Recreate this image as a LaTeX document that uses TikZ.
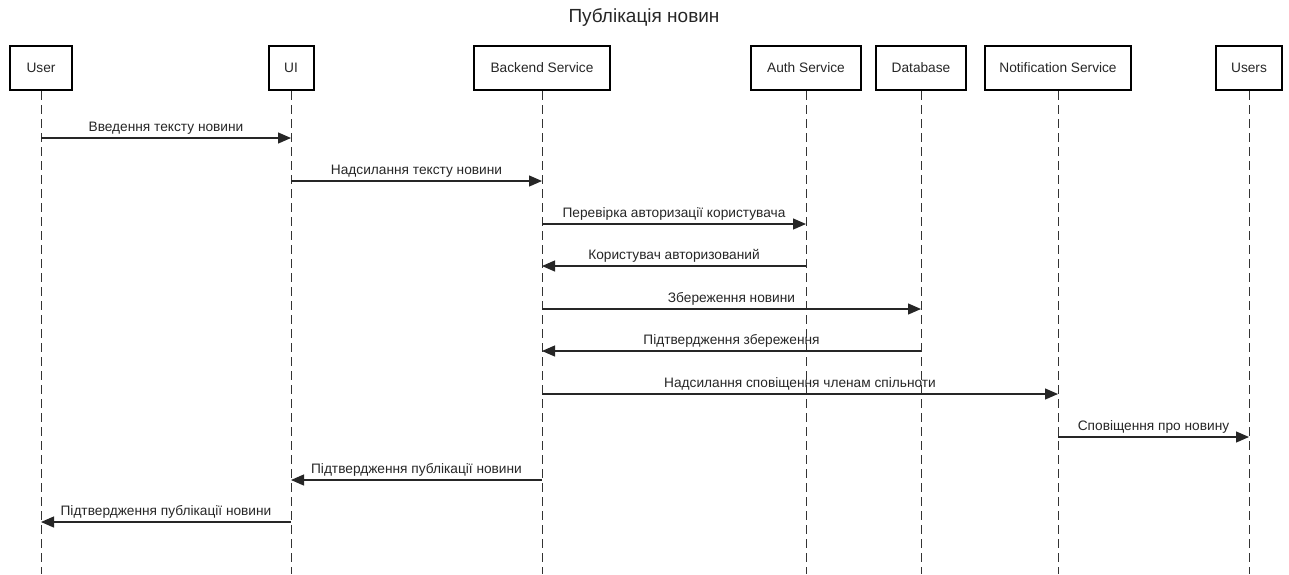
\documentclass[tikz,border=0pt]{standalone}
\usepackage{fontspec}
\setmainfont{Liberation Sans}
\usetikzlibrary{arrows.meta}
\begin{document}
\begin{tikzpicture}[x=1pt,y=-1pt,
  actor/.style={draw=black, line width=2pt, minimum height=44pt, inner sep=0pt, text=black!85, font=\fontsize{13.7}{16}\selectfont},
  life/.style={draw=black!80, dash pattern=on 9pt off 5pt, line width=1pt},
  msg/.style={draw=black!85, line width=1.2pt, -{Triangle[length=13pt,width=11pt]}},
  lbl/.style={font=\fontsize{13.7}{16}\selectfont, text=black!85, above=3pt, inner sep=0pt}]
\useasboundingbox (0,0) rectangle (1289,574);
\node[font=\fontsize{19}{22}\selectfont, text=black!85] (title) at (644,17) {Публікація новин};
\node[actor, minimum width=62pt]  (user)  at (41,68)   {User};
\node[actor, minimum width=45pt]  (ui)    at (291,68)  {UI};
\node[actor, minimum width=136pt] (back)  at (542,68)  {Backend Service};
\node[actor, minimum width=110pt] (auth)  at (806,68)  {Auth Service};
\node[actor, minimum width=90pt]  (db)    at (921,68)  {Database};
\node[actor, minimum width=146pt] (notif) at (1058,68) {Notification Service};
\node[actor, minimum width=66pt]  (users) at (1249,68) {Users};
\foreach \n in {user,ui,back,auth,db,notif,users}{
  \coordinate (\n E) at (\n |- 0,574);
  \draw[life] (\n) -- (\n E);
}
\draw[msg] (user |- 0,138) -- node[lbl]{Введення тексту новини} (ui |- 0,138);
\draw[msg] (ui |- 0,181) -- node[lbl]{Надсилання тексту новини} (back |- 0,181);
\draw[msg] (back |- 0,224) -- node[lbl]{Перевірка авторизації користувача} (auth |- 0,224);
\draw[msg] (auth |- 0,266) -- node[lbl]{Користувач авторизований} (back |- 0,266);
\draw[msg] (back |- 0,309) -- node[lbl]{Збереження новини} (db |- 0,309);
\draw[msg] (db |- 0,351) -- node[lbl]{Підтвердження збереження} (back |- 0,351);
\draw[msg] (back |- 0,394) -- node[lbl]{Надсилання сповіщення членам спільноти} (notif |- 0,394);
\draw[msg] (notif |- 0,437) -- node[lbl]{Сповіщення про новину} (users |- 0,437);
\draw[msg] (back |- 0,480) -- node[lbl]{Підтвердження публікації новини} (ui |- 0,480);
\draw[msg] (ui |- 0,522) -- node[lbl]{Підтвердження публікації новини} (user |- 0,522);
\end{tikzpicture}
\end{document}
